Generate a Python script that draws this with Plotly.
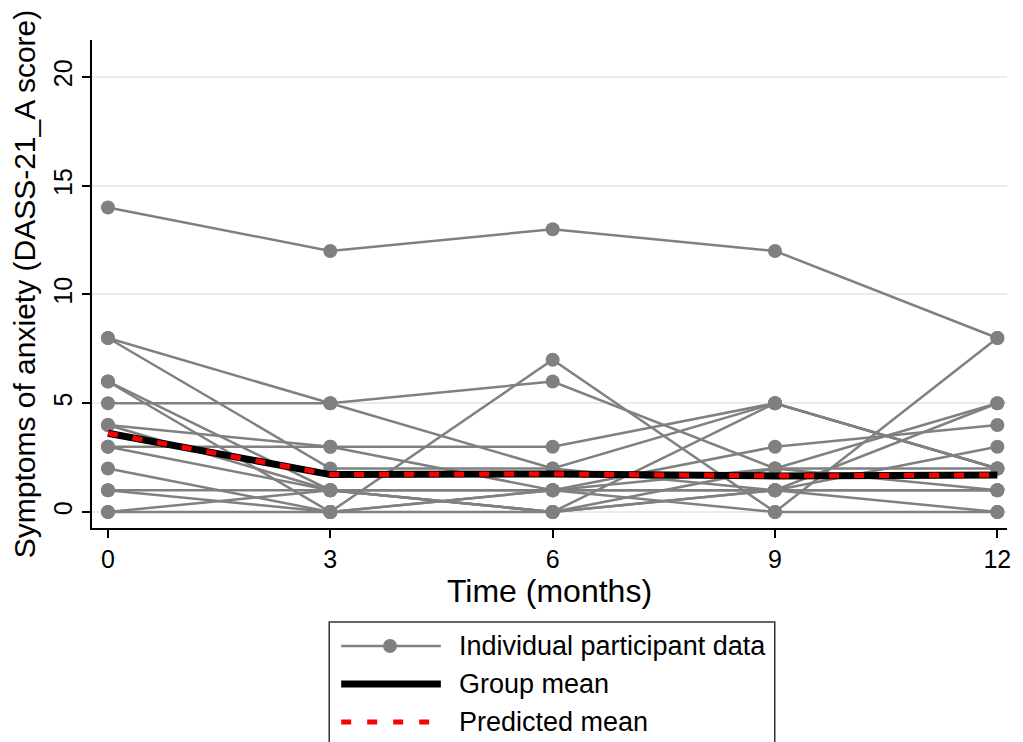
import plotly.graph_objects as go

# ---- data ----
time_months = [0, 3, 6, 9, 12]
participants = [
    [14, 12, 13, 12, 8],
    [8, 5, 6, 2, 1],
    [8, 2, 2, 1, 1],
    [6, 1, 0, 5, 2],
    [6, 0, 7, 0, 8],
    [5, 5, 2, 5, 2],
    [4, 3, 3, 5, 2],
    [4, 1, 1, 1, 5],
    [3, 3, 1, 3, 4],
    [3, 1, 0, 1, 3],
    [2, 0, 1, 2, 5],
    [1, 1, 0, 1, 1],
    [1, 0, 1, 0, 0],
    [0, 0, 0, 2, 2],
    [0, 1, 1, 1, 0],
]
group_mean = [3.62, 1.72, 1.75, 1.66, 1.70]
predicted_mean = [3.62, 1.72, 1.75, 1.66, 1.70]
x_ticks = [0, 3, 6, 9, 12]
y_ticks = [0, 5, 10, 15, 20]
legend_labels = ["Individual participant data", "Group mean", "Predicted mean"]

GREY = "#808080"

fig = go.Figure()
for p in participants:
    fig.add_trace(go.Scatter(
        x=time_months, y=p, mode="lines+markers",
        line=dict(color=GREY, width=2.5),
        marker=dict(color=GREY, size=14),
        showlegend=False, hoverinfo="skip"))
fig.add_trace(go.Scatter(
    x=time_months, y=group_mean, mode="lines",
    line=dict(color="black", width=7), showlegend=False))
fig.add_trace(go.Scatter(
    x=time_months, y=predicted_mean, mode="lines",
    line=dict(color="#ff0000", width=5, dash="10px,15px"), showlegend=False))

# page is offset by the 8px body margin; work in figure pixels
OFF = 8
FW, FH = 1023 - OFF, 742 - OFF
L, T, R, B = 92 - OFF, 40 - OFF, 1010 - OFF, 528 - OFF
W, H = R - L, B - T

def px(xp):  # page pixel -> paper x
    return (xp - OFF - L) / W

def py(yp):  # page pixel -> paper y
    return (B - (yp - OFF)) / H

shapes = []
annotations = []
# custom legend box
shapes.append(dict(type="rect", xref="paper", yref="paper",
                   x0=px(330), x1=px(777), y0=py(760), y1=py(622),
                   line=dict(color="#333333", width=1.5), fillcolor="white"))
rows = [646, 684, 722]
shapes.append(dict(type="line", xref="paper", yref="paper",
                   x0=px(342), x1=px(442), y0=py(rows[0]), y1=py(rows[0]),
                   line=dict(color=GREY, width=2.5)))
shapes.append(dict(type="circle", xref="paper", yref="paper",
                   x0=px(384), x1=px(398), y0=py(rows[0] + 7), y1=py(rows[0] - 7),
                   line=dict(color=GREY, width=0), fillcolor=GREY))
shapes.append(dict(type="line", xref="paper", yref="paper",
                   x0=px(342), x1=px(442), y0=py(rows[1]), y1=py(rows[1]),
                   line=dict(color="black", width=7)))
shapes.append(dict(type="line", xref="paper", yref="paper",
                   x0=px(342), x1=px(442), y0=py(rows[2]), y1=py(rows[2]),
                   line=dict(color="#ff0000", width=5, dash="10px,16px")))
for r, lab in zip(rows, legend_labels):
    annotations.append(dict(xref="paper", yref="paper", x=px(458), y=py(r),
                            xanchor="left", yanchor="middle", text=lab, showarrow=False,
                            font=dict(size=27, color="black", family="Arial")))

fig.update_layout(
    width=FW, height=FH,
    margin=dict(l=L, r=FW - R, t=T, b=FH - B),
    paper_bgcolor="white", plot_bgcolor="white",
    font=dict(family="Arial", color="black"),
    shapes=shapes, annotations=annotations,
    showlegend=False,
    xaxis=dict(
        range=[-0.215, 12.13], tickvals=x_ticks, ticktext=[str(v) for v in x_ticks],
        showgrid=False, zeroline=False, showline=True, linecolor="black", linewidth=1.5,
        ticks="outside", ticklen=8, tickcolor="black", tickwidth=1.5,
        tickfont=dict(size=25, color="black"),
        title=dict(text="Time (months)", font=dict(size=32, color="black"), standoff=6),
    ),
    yaxis=dict(
        range=[-0.736, 21.7], tickvals=y_ticks, ticktext=[str(v) for v in y_ticks],
        showgrid=True, gridcolor="#e6eef0", gridwidth=1.5, zeroline=False,
        showline=True, linecolor="black", linewidth=1.5,
        ticks="outside", ticklen=8, tickcolor="black", tickwidth=1.5,
        tickangle=-90, tickfont=dict(size=25, color="black"),
        title=dict(text="Symptoms of anxiety (DASS-21_A score)", font=dict(size=30, color="black"), standoff=6),
    ),
)

fig.write_html("out.html")
